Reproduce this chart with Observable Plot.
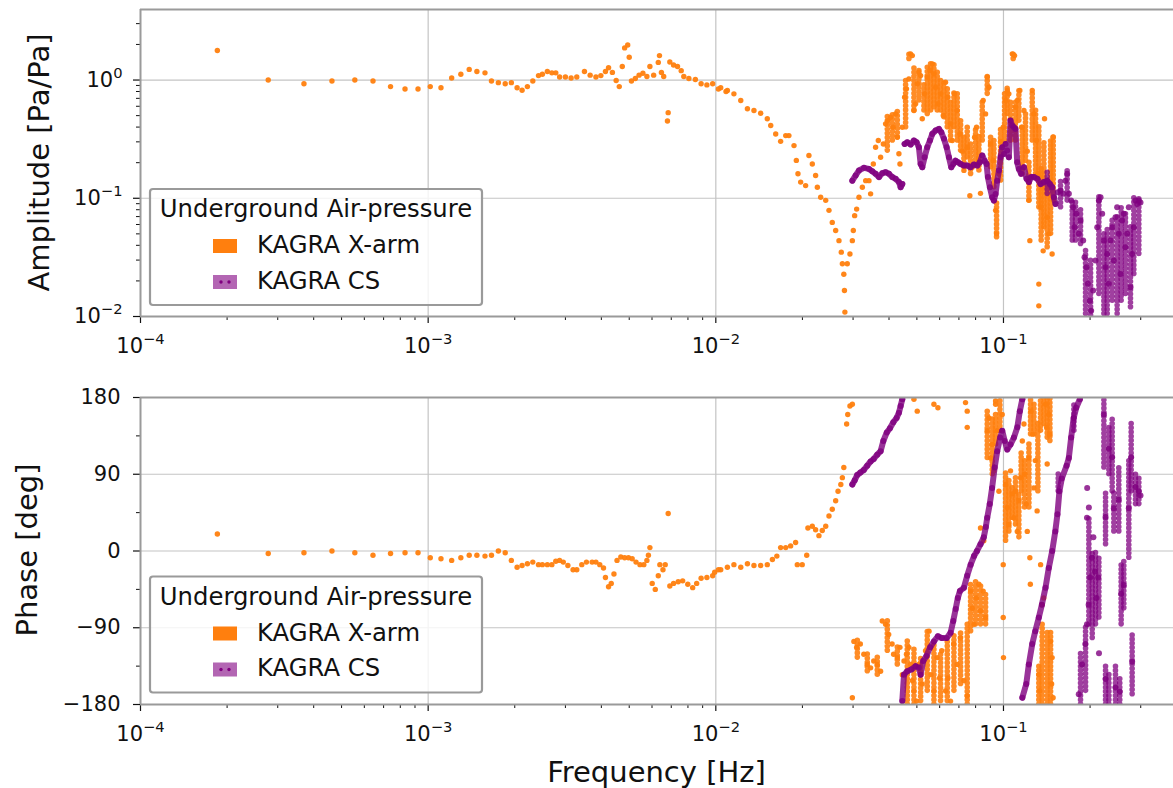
<!DOCTYPE html>
<html><head><meta charset="utf-8">
<script src="https://cdn.jsdelivr.net/npm/d3@7"></script>
<script src="https://cdn.jsdelivr.net/npm/@observablehq/plot@0.6"></script>
<style>
body{margin:0;background:#fff;}
#wrap{position:relative;width:1173px;height:788px;overflow:hidden;font-family:"DejaVu Sans",sans-serif;background:#fff;}
</style></head><body><div id="wrap"></div>
<script>
// ---------------- DATA ----------------
const ORANGE = "#ff7f0e", PURPLE = "#800080";
const seriesNames = ["KAGRA X-arm", "KAGRA CS"];
const legendTitle = "Underground Air-pressure";
const xMajor = [1e-4, 1e-3, 1e-2, 1e-1];
const xMinor = [2e-4,3e-4,4e-4,5e-4,6e-4,7e-4,8e-4,9e-4,2e-3,3e-3,4e-3,5e-3,6e-3,7e-3,8e-3,9e-3,0.02,0.03,0.04,0.05,0.06,0.07,0.08,0.09,0.2,0.3];
const ampMajor = [0.01, 0.1, 1];
const ampMinor = [0.02,0.03,0.04,0.05,0.06,0.07,0.08,0.09,0.2,0.3,0.4,0.5,0.6,0.7,0.8,0.9,2,3];
const phaseMajor = [-180, -90, 0, 90, 180];
const phaseMinor = [-135, -45, 45, 135];

// X-arm amplitude [f, amp]
const xarmAmp = [
[1.85e-4,1.78],[2.78e-4,1.0],[3.70e-4,0.93],[4.63e-4,0.98],[5.56e-4,1.0],[6.43e-4,0.98],[7.40e-4,0.88],[8.31e-4,0.84],[9.22e-4,0.84],[1.017e-3,0.88],[1.108e-3,0.86],[1.207e-3,1.04],[1.299e-3,1.12],[1.389e-3,1.23],[1.477e-3,1.18],[1.576e-3,1.15],[1.66e-3,0.98],[1.754e-3,0.95],[1.853e-3,0.93],[1.946e-3,0.95],[2.038e-3,0.86],[2.121e-3,0.82],[2.213e-3,0.88],[2.311e-3,0.98],[2.419e-3,1.09],[2.495e-3,1.12],[2.596e-3,1.18],[2.692e-3,1.15],[2.778e-3,1.15],[2.864e-3,1.06],[3.0e-3,1.06],[3.14e-3,1.04],[3.286e-3,1.06],[3.494e-3,1.18],[3.657e-3,1.1],[3.83e-3,1.06],[3.985e-3,1.09],[4.134e-3,1.18],[4.238e-3,1.27],[4.37e-3,1.16],[4.504e-3,0.99],[4.617e-3,0.88],[4.73e-3,1.3],[4.82e-3,1.87],[4.94e-3,1.98],[5.0e-3,1.56],[5.09e-3,0.98],[5.25e-3,1.03],[5.41e-3,1.1],[5.58e-3,1.14],[5.76e-3,1.07],[5.9e-3,1.3],[6.08e-3,1.1],[6.31e-3,1.41],[6.37e-3,1.61],[6.47e-3,1.16],[6.59e-3,1.07],[6.83e-3,0.53],[6.79e-3,0.45],[6.92e-3,1.42],[7.13e-3,1.34],[7.36e-3,1.3],[7.58e-3,1.2],[7.74e-3,1.07],[8.06e-3,1.03],[8.49e-3,1.01],[8.89e-3,0.93],[9.31e-3,0.91],[9.75e-3,0.93],[1.021e-2,0.84],[1.085e-2,0.8],
[1.04e-2,0.86],[1.097e-2,0.815],[1.156e-2,0.764],[1.221e-2,0.671],[1.288e-2,0.571],[1.357e-2,0.552],[1.432e-2,0.524],[1.51e-2,0.47],[1.552e-2,0.412],[1.615e-2,0.35],[1.68e-2,0.303],[1.75e-2,0.339],[1.795e-2,0.339],[1.87e-2,0.279],[1.905e-2,0.209],[1.93e-2,0.161],[1.972e-2,0.137],[2.052e-2,0.128],[2.107e-2,0.23],[2.165e-2,0.195],[2.223e-2,0.156],[2.254e-2,0.124],[2.315e-2,0.102],[2.41e-2,0.096],[2.474e-2,0.079],[2.54e-2,0.0625],[2.61e-2,0.0534],[2.68e-2,0.0438],[2.73e-2,0.035],[2.754e-2,0.0279],[2.786e-2,0.0228],[2.8e-2,0.0166],[2.81e-2,0.0109],[2.864e-2,0.0279],[2.926e-2,0.0338],[2.983e-2,0.0438],[3.006e-2,0.0534],[3.038e-2,0.0713],[3.087e-2,0.081],[3.145e-2,0.102],[3.232e-2,0.124],[3.319e-2,0.141],[3.407e-2,0.141],[3.452e-2,0.109],[3.528e-2,0.195],[3.593e-2,0.27],[3.672e-2,0.308],[3.74e-2,0.222],[3.822e-2,0.288],[3.892e-2,0.426],[3.966e-2,0.454],[4.052e-2,0.485],[4.14e-2,0.399],[4.217e-2,0.517],[4.275e-2,0.328],[4.33e-2,0.238],[4.366e-2,0.195],[4.449e-2,0.399],[4.532e-2,0.716],[4.6e-2,0.842],[4.69e-2,1.02],[4.753e-2,1.665],[4.82e-2,1.61],[4.883e-2,0.552],[4.95e-2,0.629],[5.017e-2,0.929],[5.08e-2,1.164],[5.152e-2,1.09],[5.22e-2,0.47],[5.317e-2,0.764],[5.43e-2,1.056],[5.55e-2,1.203],[5.656e-2,1.37],[5.73e-2,1.128],[5.81e-2,0.87],[5.916e-2,0.629],[6.045e-2,0.764],[6.176e-2,0.501],[6.29e-2,0.958],[6.41e-2,0.716],[6.546e-2,0.426],[6.637e-2,0.308],[6.76e-2,0.764],[6.9e-2,0.552],[7.056e-2,0.35],[7.19e-2,0.25],[7.286e-2,0.172],[7.48e-2,0.27],[7.64e-2,0.105],[7.79e-2,0.183],[7.935e-2,0.328],[8.06e-2,0.399],[8.21e-2,0.209],[8.32e-2,0.11],[8.5e-2,0.671],[8.665e-2,0.517],[8.78e-2,1.056],[8.9e-2,0.87],[9.02e-2,0.288],[9.21e-2,0.209],[9.39e-2,0.079],[9.46e-2,0.05],[9.64e-2,0.161],[9.77e-2,0.303],[9.98e-2,0.399],[0.1017,0.671],[0.1031,0.815],[0.1044,0.764],[0.1073,1.665],[0.1093,1.61],[0.1102,0.589],[0.1117,0.671],[0.114,0.815],[0.1156,0.399],[0.1178,0.552],[0.121,0.25],[0.1225,0.096],[0.1235,0.0438],[0.1259,0.815],[0.1275,0.517],[0.1303,0.308],[0.1317,0.161],[0.1327,0.0188],[0.1327,0.0123],[0.1346,0.0839],[0.1374,0.0359],[0.1389,0.47],[0.14,0.124],[0.1419,0.069],[0.1437,0.05],[0.1457,0.124],[0.1476,0.0338],[0.1488,0.328],[0.1496,0.096]
];
// X-arm amplitude dense columns [f, low, high]
const xarmAmpBands = [
[0.03946,0.253,0.517],[0.04108,0.308,0.517],[0.04275,0.328,0.552],[0.04569,0.399,0.99],[0.04692,1.51,1.777],[0.04884,0.552,1.284],[0.05082,0.671,1.284],[0.0529,0.552,0.928],[0.05433,0.517,1.284],[0.0558,0.552,1.37],[0.05731,0.589,1.416],[0.05886,0.552,1.203],[0.06044,0.552,1.057],[0.06209,0.485,0.99],[0.06377,0.399,0.87],[0.06549,0.308,0.671],[0.06726,0.399,0.815],[0.06907,0.308,0.764],[0.07094,0.253,0.485],[0.07286,0.183,0.35],[0.07482,0.222,0.399],[0.07685,0.1608,0.308],[0.07998,0.195,0.399],[0.08215,0.1715,0.35],[0.08437,0.308,0.671],[0.08781,0.764,1.128],[0.09019,0.183,0.35],[0.09262,0.124,0.308],[0.09462,0.0468,0.0956],[0.0977,0.1412,0.399],[0.1009,0.308,0.815],[0.103,0.517,0.87],[0.1058,0.308,0.671],[0.1081,1.51,1.72],[0.1101,0.308,0.671],[0.1131,0.454,0.815],[0.1162,0.1608,0.399],[0.1193,0.208,0.517],[0.1226,0.0956,0.208],[0.1259,0.308,0.815],[0.1293,0.1608,0.552],[0.1327,0.084,0.399],[0.1352,0.0439,0.183],[0.1382,0.0569,0.308],[0.1419,0.0385,0.124],[0.1458,0.05,0.308],[0.1489,0.0956,0.328]
];
// CS amplitude: continuous runs [f, amp]
const csAmpRunA = [[0.02982,0.141],[0.03063,0.156],[0.03146,0.172],[0.03274,0.181],[0.03407,0.177],[0.03499,0.169],[0.03594,0.161],[0.03692,0.151],[0.03792,0.163],[0.03894,0.166],[0.03999,0.161],[0.04108,0.151],[0.04218,0.146],[0.04332,0.137],[0.04391,0.124],[0.04449,0.132]];
const csAmpRunB = [[0.04533,0.288],[0.0463,0.298],[0.04756,0.285],[0.04884,0.308],[0.04987,0.298],[0.05082,0.270],[0.05152,0.195],[0.0522,0.183],[0.05318,0.222],[0.05433,0.270],[0.05551,0.308],[0.05655,0.350],[0.05808,0.374],[0.05965,0.386],[0.06077,0.362],[0.06209,0.318],[0.06344,0.270],[0.06463,0.222],[0.06585,0.183],[0.0669,0.195],[0.06816,0.208],[0.06945,0.202],[0.07094,0.195],[0.07286,0.189],[0.07482,0.189],[0.07685,0.183],[0.07891,0.193],[0.08106,0.189],[0.08281,0.202],[0.08437,0.230],[0.08595,0.208],[0.08734,0.195],[0.08828,0.151],[0.0897,0.124],[0.09141,0.102],[0.09262,0.0956],[0.09386,0.1089],[0.09513,0.141],[0.09641,0.172],[0.0977,0.222],[0.09902,0.270],[0.1004,0.237],[0.1017,0.288],[0.103,0.253],[0.1044,0.222],[0.1058,0.454],[0.1072,0.412],[0.1087,0.399],[0.1101,0.386],[0.1116,0.202],[0.1131,0.177],[0.1152,0.161],[0.1178,0.183],[0.1203,0.146],[0.1226,0.137],[0.1249,0.151],[0.1276,0.151],[0.1311,0.146],[0.1345,0.132],[0.1382,0.137],[0.1419,0.141],[0.145,0.132],[0.1477,0.124],[0.1497,0.102],[0.1517,0.0896]];
// CS amplitude: scattered tail [f, amp]
const csAmpTail = [[0.1546,0.1125],[0.1579,0.116],[0.1613,0.109],[0.1643,0.141],[0.1665,0.161],[0.1688,0.109],[0.1719,0.0956],[0.1747,0.084],[0.1766,0.0569],[0.1795,0.0738],[0.1829,0.05],[0.1853,0.0648],[0.1893,0.0439],[0.1913,0.0317],[0.1944,0.0261],[0.1965,0.0189],[0.1997,0.0136],[0.2018,0.0112],[0.205,0.0166],[0.2089,0.0297],[0.2118,0.0569],[0.2146,0.0956],[0.2175,0.102],[0.2204,0.0738],[0.2234,0.0439],[0.2264,0.0261],[0.2294,0.0338],[0.2325,0.0189],[0.2356,0.0439],[0.2387,0.0569],[0.2419,0.0297],[0.2451,0.0691],[0.2484,0.084],[0.2517,0.05],[0.2551,0.0229],[0.2586,0.0648],[0.262,0.0738],[0.2655,0.0385],[0.2692,0.05],[0.2727,0.084],[0.2764,0.0177],[0.2801,0.0338],[0.2839,0.0569],[0.2877,0.0956],[0.2916,0.0896],[0.2955,0.0956],[0.2995,0.092]];
const csAmpBands = [[0.1419,0.109,0.172],[0.1579,0.084,0.141],[0.1665,0.0956,0.172],[0.1734,0.0439,0.0956],[0.178,0.0439,0.0956],[0.1853,0.0411,0.084],[0.1929,0.0105,0.0385],[0.2008,0.0102,0.0297],[0.2146,0.0155,0.109],[0.2234,0.0105,0.05],[0.2294,0.0105,0.0569],[0.2387,0.0136,0.0691],[0.2484,0.0105,0.0738],[0.2565,0.0136,0.084],[0.2655,0.0155,0.0738],[0.2764,0.012,0.0569],[0.2839,0.0229,0.102],[0.2955,0.0338,0.102]];

// X-arm phase [f, deg]
const xarmPhase = [
[1.85e-4,20],[2.78e-4,-3],[3.70e-4,-2],[4.63e-4,0],[5.56e-4,-2],[6.43e-4,-5],[7.40e-4,-3],[8.31e-4,-2],[9.22e-4,-2],[1.017e-3,-8],[1.108e-3,-9],[1.207e-3,-11],[1.299e-3,-8],[1.389e-3,-5],[1.477e-3,-5],[1.576e-3,-6],[1.66e-3,-5],[1.754e-3,0],[1.853e-3,-2],[1.946e-3,-11],[2.038e-3,-19],[2.121e-3,-17],[2.213e-3,-15],[2.311e-3,-13],[2.419e-3,-16],[2.495e-3,-16],[2.596e-3,-16],[2.692e-3,-16],[2.778e-3,-12],[2.864e-3,-11],[2.95e-3,-13],[3.06e-3,-17],[3.19e-3,-22],[3.286e-3,-22],[3.42e-3,-16],[3.55e-3,-13],[3.715e-3,-13],[3.83e-3,-13],[3.95e-3,-16],[4.07e-3,-20],[4.134e-3,-31],[4.238e-3,-42],[4.33e-3,-38],[4.425e-3,-27],[4.535e-3,-11],[4.675e-3,-7],[4.82e-3,-8],[4.97e-3,-8],[5.12e-3,-9],[5.28e-3,-13],[5.45e-3,-16],[5.62e-3,-16],[5.76e-3,-11],[5.83e-3,-5],[5.9e-3,4],[6.01e-3,-38],[6.16e-3,-45],[6.31e-3,-29],[6.39e-3,-16],[6.55e-3,-22],[6.67e-3,-16],[6.83e-3,44],[6.92e-3,-41],[7.13e-3,-38],[7.4e-3,-36],[7.67e-3,-35],[7.99e-3,-39],[8.31e-3,-43],[8.58e-3,-38],[8.89e-3,-32],[9.31e-3,-31],[9.75e-3,-29],[9.91e-3,-25],[1.021e-2,-22],[1.04e-2,-22],[1.097e-2,-19],[1.156e-2,-16],[1.221e-2,-19],[1.288e-2,-15],[1.357e-2,-17],[1.432e-2,-17],[1.51e-2,-16],[1.573e-2,-10],[1.63e-2,-6],[1.68e-2,4],[1.75e-2,4],[1.82e-2,6],[1.894e-2,10],[1.92e-2,-16],[1.997e-2,-16],[2.07e-2,-5],[2.09e-2,27],[2.165e-2,29],[2.223e-2,25],[2.283e-2,18],[2.345e-2,24],[2.41e-2,29],[2.474e-2,41],[2.54e-2,49],[2.61e-2,59],[2.66e-2,70],[2.72e-2,78],[2.754e-2,86],[2.786e-2,98],[2.85e-2,149],[2.875e-2,160],[2.926e-2,170],[2.983e-2,172],
[2.983e-2,-172],[3.02e-2,-106],[3.087e-2,-113],[3.18e-2,-109],[3.27e-2,-121],[3.36e-2,-133],[3.452e-2,-137],[3.54e-2,-129],[3.64e-2,-133],[3.74e-2,-141],[3.79e-2,-82],[3.892e-2,-86],[3.99e-2,-98],[4.1e-2,-109],[4.15e-2,-121],[4.275e-2,-125],[4.366e-2,-113],[4.449e-2,-145],[4.51e-2,-129],[4.6e-2,-121],[4.69e-2,-113],[4.753e-2,-133],[4.82e-2,-152],[4.883e-2,-164],[4.99e-2,-176],[5.08e-2,-133],[5.22e-2,-156],[5.36e-2,-117],[5.51e-2,-94],[5.6e-2,-145],[5.73e-2,-164],[5.875e-2,-125],[6.0e-2,-149],[6.1e-2,-117],[6.29e-2,-164],[6.41e-2,-149],[6.546e-2,-176],[6.71e-2,-109],[6.9e-2,-133],[7.08e-2,-102],[7.286e-2,-152],[7.48e-2,-170],[7.69e-2,-47],[7.79e-2,-67],[7.9e-2,-86],[8.06e-2,-55],[8.21e-2,-39],[8.32e-2,-70],[8.5e-2,-47],[8.665e-2,-78],[8.32e-2,27],[8.54e-2,12],[8.78e-2,141],[8.9e-2,156],[9.02e-2,109],[9.13e-2,125],[9.26e-2,94],[9.39e-2,172],[9.51e-2,141],[9.64e-2,70],[9.9e-2,160],[9.98e-2,-16],[9.98e-2,-78],[0.1,-125],[0.1017,78],[0.1031,51],[0.1044,31],[0.1058,94],[0.1073,67],[0.1087,39],[0.1102,70],[0.1117,23],[0.1132,59],[0.1147,86],[0.1163,129],[0.1178,149],[0.1186,90],[0.12,55],[0.121,23],[0.1225,109],[0.1235,-8],[0.124,-39],[0.1246,164],[0.1264,137],[0.1275,74],[0.129,106],[0.1309,47],[0.1327,-145],[0.1337,-164],[0.1346,-16],[0.136,-63],[0.138,-55],[0.14,172],[0.1413,145],[0.1419,102],[0.1437,160],[0.145,137],[0.1457,-106],[0.1476,-125],[0.147,-156],[0.1488,-172],
[0.04884,178],[0.05015,164],[0.05731,172],[0.05917,168],[0.0738,174],[0.07482,164],[0.07482,145],[0.09386,176]
];
const xarmPhaseBands = [
[0.03104,-125,-102],[0.03362,-141,-117],[0.03642,-145,-125],[0.03946,-117,-82],[0.04275,-133,-110],
[0.0463,-180,-106],[0.04884,-180,-113],[0.05152,-176,-125],[0.05433,-164,-94],[0.05731,-180,-110],[0.06044,-176,-117],[0.06377,-176,-106],[0.06726,-164,-98],[0.07094,-156,-94],[0.07482,-180,-86],
[0.07685,-94,-35],[0.07998,-86,-35],[0.08325,-86,-39],[0.08665,-86,-47],
[0.08781,109,164],[0.09141,90,156],[0.09386,125,164],[0.09719,141,176],
[0.1017,12,94],[0.1044,23,86],[0.1072,39,78],[0.1101,31,90],[0.1131,16,70],[0.1152,70,117],[0.1184,51,106],[0.1226,51,129],[0.1242,137,180],[0.1276,137,176],[0.1317,70,152],[0.1345,141,180],[0.1382,149,180],[0.1419,133,180],[0.145,129,180],
[0.1327,-180,-133],[0.1363,-180,-86],[0.1419,-180,-94],[0.1458,-180,-94]
];
// CS phase: wrapped runs [f, deg]
const csPhaseRun1 = [[0.02982,78],[0.0304,83],[0.031,89],[0.0318,92],[0.0327,95],[0.0336,100],[0.03452,105],[0.0354,108],[0.0364,113],[0.0374,117],[0.03822,129],[0.0393,139],[0.0403,144],[0.0414,151],[0.0425,156],[0.0433,162],[0.0439,170],[0.04449,178]];
const csPhaseRun2 = [[0.04449,-176],[0.0451,-145],[0.0463,-141],[0.0478,-139],[0.0495,-135],[0.0508,-137],[0.05152,-145],[0.0526,-129],[0.054,-123],[0.0556,-113],[0.0573,-106],[0.05916,-100],[0.061,-102],[0.0635,-102],[0.06546,-96],[0.0669,-82],[0.0682,-68],[0.0694,-55],[0.07056,-47],[0.07286,-43],[0.0748,-29],[0.0769,-16],[0.079,-6],[0.0809,0],[0.0832,8],[0.0854,16],[0.0868,28],[0.0878,39],[0.0896,55],[0.0913,74],[0.0932,98],[0.0951,117],[0.0974,133],[0.099,141],[0.101,129],[0.1031,119],[0.1058,125],[0.1087,133],[0.1117,145],[0.114,164],[0.1163,178]];
const csPhaseRun3 = [[0.1163,-172],[0.12,-156],[0.1225,-133],[0.1259,-109],[0.129,-94],[0.1327,-78],[0.136,-63],[0.14,-43],[0.1437,-20],[0.1477,0],[0.1514,23],[0.154,43],[0.1565,70],[0.1595,85],[0.1657,100],[0.1687,109],[0.1719,133],[0.1754,156],[0.179,168],[0.1843,178]];
const csPhaseTail = [[0.1827,-168],[0.1876,-133],[0.1926,-109],[0.1951,-86],[0.1977,-63],[0.2002,-31],[0.2028,-8],[0.2054,16],[0.1951,39],[0.208,-24],[0.2107,-55],[0.2135,-31],[0.1954,74],[0.1981,51],[0.2234,160],[0.2264,40],[0.2325,120],[0.2387,110],[0.2419,50],[0.2517,60],[0.2565,-50],[0.262,-40],[0.2727,50],[0.2779,110],[0.2801,-130],[0.2877,75],[0.2955,70],[0.2995,65],[0.2264,-150],[0.2451,-160],[0.2537,-165],[0.2148,-120]];
const csPhaseBands = [[0.1853,-180,-117],[0.1929,-164,-86],[0.1981,-86,39],[0.2035,-102,0],[0.2089,-86,0],[0.2146,-78,-8],[0.2234,98,178],[0.2264,8,70],[0.2325,90,149],[0.2387,70,156],[0.2419,23,70],[0.2517,23,98],[0.2565,-86,-16],[0.262,-67,-8],[0.2264,-180,-133],[0.2325,-180,-141],[0.2451,-180,-133],[0.2537,-180,-149],[0.2727,-8,109],[0.2779,70,149],[0.2801,-168,-98],[0.2877,55,94],[0.2955,55,86],[0.1757,141,172],[0.155,70,94]];

// ---------------- DRAWING ----------------
const wrap = document.getElementById("wrap");
const FONT = "DejaVu Sans";
const X = {type: "log", domain: [1e-4, 0.39]};
const fmtPow = d => "10^" + Math.round(Math.log10(d));
const fmtDeg = d => d < 0 ? "\u2212" + (-d) : String(d);
const fx = d => d[0], fy = d => d[1], fy1 = d => d[1], fy2 = d => d[2];

// dense clusters: a column of round dots (zero-length dashes with round caps)
function bands(data, color, op) {
  return Plot.ruleX(data, {x: fx, y1: fy1, y2: fy2, stroke: color, strokeWidth: 5.6, strokeLinecap: "round", strokeDasharray: "0,4.2", strokeOpacity: op, clip: true});
}
function dots(data, color, r, op) {
  return Plot.dot(data, {x: fx, y: fy, r, fill: color, fillOpacity: op, stroke: "none", clip: true});
}
function run(data, color) {
  return Plot.line(data, {x: fx, y: fy, stroke: color, strokeWidth: 6, strokeOpacity: 0.8, strokeLinecap: "round", strokeLinejoin: "round", clip: true});
}
function xAxes() {
  return [
    Plot.gridX({ticks: [1e-3, 1e-2, 1e-1], stroke: "#c4c4c4", strokeOpacity: 1, strokeWidth: 1.2}),
    Plot.axisX({ticks: xMajor, tickFormat: fmtPow, tickSize: 7, tickPadding: 15, fontSize: 21, label: null, color: "#111", strokeWidth: 1.2}),
    Plot.axisX({ticks: xMinor, tickFormat: () => "", tickSize: 4, label: null, color: "#111", strokeWidth: 1})
  ];
}

const ampPlot = Plot.plot({
  width: 1173, height: 360, marginLeft: 140, marginRight: 0, marginTop: 9, marginBottom: 44,
  style: {position: "absolute", left: "0px", top: "0px", background: "transparent", fontFamily: FONT, overflow: "visible"},
  x: X,
  y: {type: "log", domain: [0.01, 3.95]},
  marks: [
    Plot.gridY({ticks: [0.1, 1], stroke: "#c4c4c4", strokeOpacity: 1, strokeWidth: 1.2}),
    ...xAxes(),
    Plot.axisY({ticks: ampMajor, tickFormat: fmtPow, tickSize: 7, tickPadding: 11, fontSize: 21, label: null, color: "#111", strokeWidth: 1.2}),
    Plot.axisY({ticks: ampMinor, tickFormat: () => "", tickSize: 4, label: null, color: "#111", strokeWidth: 1}),
    bands(xarmAmpBands, ORANGE, 0.9),
    dots(xarmAmp, ORANGE, 2.7, 0.95),
    bands(csAmpBands, PURPLE, 0.75),
    run(csAmpRunA, PURPLE),
    run(csAmpRunB, PURPLE),
    dots(csAmpRunA, PURPLE, 3, 0.8),
    dots(csAmpRunB, PURPLE, 3, 0.8),
    dots(csAmpTail, PURPLE, 3, 0.8),
    Plot.ruleX([1e-4], {stroke: "#9a9a9a", strokeWidth: 2}),
    Plot.ruleY([3.95], {stroke: "#9a9a9a", strokeWidth: 2}),
    Plot.ruleY([0.01], {stroke: "#9a9a9a", strokeWidth: 2})
  ]
});
wrap.appendChild(ampPlot);

const phasePlot = Plot.plot({
  width: 1173, height: 401, marginLeft: 140, marginRight: 0, marginTop: 10, marginBottom: 84,
  style: {position: "absolute", left: "0px", top: "387px", background: "transparent", fontFamily: FONT, overflow: "visible"},
  x: X,
  y: {domain: [-180, 180]},
  marks: [
    Plot.gridY({ticks: [-90, 0, 90], stroke: "#c4c4c4", strokeOpacity: 1, strokeWidth: 1.2}),
    ...xAxes(),
    Plot.axisY({ticks: phaseMajor, tickFormat: fmtDeg, tickSize: 7, tickPadding: 13, fontSize: 21, label: null, color: "#111", strokeWidth: 1.2}),
    Plot.axisY({ticks: phaseMinor, tickFormat: () => "", tickSize: 4, label: null, color: "#111", strokeWidth: 1}),
    bands(xarmPhaseBands, ORANGE, 0.9),
    dots(xarmPhase, ORANGE, 2.7, 0.95),
    bands(csPhaseBands, PURPLE, 0.75),
    run(csPhaseRun1, PURPLE),
    run(csPhaseRun2, PURPLE),
    run(csPhaseRun3, PURPLE),
    dots(csPhaseRun1, PURPLE, 3, 0.8),
    dots(csPhaseRun2, PURPLE, 3, 0.8),
    dots(csPhaseRun3, PURPLE, 3, 0.8),
    dots(csPhaseTail, PURPLE, 3, 0.8),
    Plot.ruleX([1e-4], {stroke: "#9a9a9a", strokeWidth: 2}),
    Plot.ruleY([180], {stroke: "#9a9a9a", strokeWidth: 2}),
    Plot.ruleY([-180], {stroke: "#9a9a9a", strokeWidth: 2})
  ]
});
wrap.appendChild(phasePlot);

// superscript tick labels 10^n
const SVGNS = "http://www.w3.org/2000/svg";
wrap.querySelectorAll("text").forEach(t => {
  const m = t.textContent.match(/^10\^(-?\d+)$/);
  if (m) {
    t.textContent = "10";
    const ts = document.createElementNS(SVGNS, "tspan");
    ts.setAttribute("dy", "-9");
    ts.setAttribute("font-size", "14.7");
    ts.textContent = m[1].replace("-", "\u2212");
    t.appendChild(ts);
  }
});

// overlay: axis labels and legends
const ov = d3.select(wrap).append("svg")
  .attr("width", 1173).attr("height", 788)
  .style("position", "absolute").style("left", "0px").style("top", "0px")
  .style("font-family", FONT).style("pointer-events", "none");
ov.append("text").attr("transform", "translate(49,162.5) rotate(-90)").attr("text-anchor", "middle")
  .attr("font-size", 29).attr("fill", "#111").text("Amplitude [Pa/Pa]");
ov.append("text").attr("transform", "translate(37,550) rotate(-90)").attr("text-anchor", "middle")
  .attr("font-size", 29).attr("fill", "#111").text("Phase [deg]");
ov.append("text").attr("x", 656.5).attr("y", 782).attr("text-anchor", "middle")
  .attr("font-size", 29).attr("fill", "#111").text("Frequency [Hz]");

function legend(y0) {
  const g = ov.append("g").attr("transform", `translate(150,${y0})`);
  g.append("rect").attr("width", 332).attr("height", 116).attr("rx", 3)
    .attr("fill", "#fff").attr("fill-opacity", 0.8).attr("stroke", "#9a9a9a").attr("stroke-width", 2.2);
  g.append("text").attr("x", 166).attr("y", 28).attr("text-anchor", "middle")
    .attr("font-size", 24.3).attr("fill", "#111").text(legendTitle);
  g.append("rect").attr("x", 63).attr("y", 50).attr("width", 24).attr("height", 14).attr("fill", ORANGE);
  g.append("text").attr("x", 107).attr("y", 64).attr("font-size", 24.3).attr("fill", "#111").text(seriesNames[0]);
  g.append("rect").attr("x", 63).attr("y", 86).attr("width", 24).attr("height", 14).attr("fill", PURPLE).attr("fill-opacity", 0.6);
  g.append("circle").attr("cx", 71).attr("cy", 93).attr("r", 1.7).attr("fill", PURPLE);
  g.append("circle").attr("cx", 79).attr("cy", 93).attr("r", 1.7).attr("fill", PURPLE);
  g.append("text").attr("x", 107).attr("y", 99.5).attr("font-size", 24.3).attr("fill", "#111").text(seriesNames[1]);
}
legend(189);
legend(576.5);
</script></body></html>
